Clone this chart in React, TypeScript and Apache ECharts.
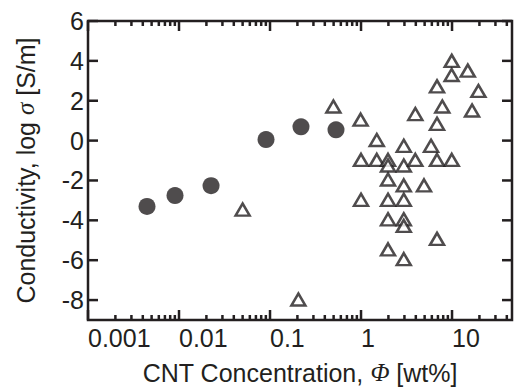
import React, { useEffect, useRef } from 'react';
import * as echarts from 'echarts';

const INK = '#231f20';
const FONT = '"Liberation Sans", Arial, sans-serif';
const FS = 25;

// Filled circles: CNT concentration [wt%] and log conductivity
const circleX = [0.00445, 0.00904, 0.0225, 0.0904, 0.219, 0.531];
const circleY = [-3.3, -2.76, -2.26, 0.05, 0.69, 0.54];

// Open triangles
const triangleX = [
  9.93, 14.9, 9.9, 6.84, 19.5, 0.497, 7.82, 16.6, 3.95, 6.84, 0.99, 1.49,
  2.95, 5.88, 1.0, 1.49, 1.98, 1.98, 2.95, 3.95, 6.84, 9.93, 1.98, 2.95,
  4.92, 1.0, 1.98, 2.95, 1.98, 2.95, 2.95, 6.84, 1.98, 2.95, 0.205, 0.05,
];
const triangleY = [
  4.0, 3.51, 3.29, 2.72, 2.49, 1.71, 1.71, 1.51, 1.33, 0.84, 1.05, 0.03,
  -0.26, -0.26, -0.97, -0.97, -0.97, -1.25, -1.25, -0.97, -0.97, -0.97, -1.95, -2.25,
  -2.25, -2.97, -2.97, -2.97, -3.95, -3.95, -4.28, -4.93, -5.46, -5.95, -7.97, -3.46,
];

// Axes
const xMajorTicks = [0.001, 0.01, 0.1, 1, 10];
const xTickLabels = ['0.001', '0.01', '0.1', '1', '10'];
const xMinorMultipliers = [2, 3, 4, 5, 6, 7, 8, 9];
const X_MIN = 0.001;
const X_MAX = 45.6;
const Y_MIN = -9;
const Y_MAX = 6;
const yMajorTicks = [-8, -6, -4, -2, 0, 2, 4, 6];

const MAJOR_LEN = 10;
const MINOR_LEN = 5;
const TICK_W = 2.5;

export default function App() {
  const ref = useRef<HTMLDivElement>(null);

  useEffect(() => {
    if (!ref.current) return;
    const chart = echarts.init(ref.current, undefined, { renderer: 'svg' });

    const option: any = {
      animation: false,
      grid: {
        left: 88,
        right: 3,
        top: 21,
        bottom: 64,
        show: true,
        borderColor: INK,
        borderWidth: 2.5,
      },
      xAxis: {
        type: 'log',
        logBase: 10,
        min: X_MIN,
        max: X_MAX,
        axisLine: { show: false },
        axisTick: { show: false },
        splitLine: { show: false },
        axisLabel: {
          align: 'left',
          margin: 5,
          color: INK,
          fontSize: FS,
          fontFamily: FONT,
          formatter: (v: number) => {
            const i = xMajorTicks.findIndex(
              (m) => Math.abs(Math.log10(v) - Math.log10(m)) < 1e-6
            );
            return i >= 0 ? xTickLabels[i] : '';
          },
        },
        name: 'CNT Concentration, {i|Φ} [wt%]',
        nameLocation: 'middle',
        nameGap: 40,
        nameTextStyle: {
          color: INK,
          fontSize: FS,
          fontFamily: FONT,
          rich: {
            i: { fontStyle: 'italic', fontFamily: '"Liberation Serif", serif', fontSize: FS, color: INK },
          },
        },
      },
      yAxis: {
        type: 'value',
        min: Y_MIN,
        max: Y_MAX,
        interval: 1,
        axisLine: { show: false },
        axisTick: { show: false },
        splitLine: { show: false },
        axisLabel: {
          margin: 4,
          color: INK,
          fontSize: FS,
          fontFamily: FONT,
          formatter: (v: number) => (yMajorTicks.includes(v) ? String(v) : ''),
        },
        name: 'Conductivity, log {i|σ} [S/m]',
        nameLocation: 'middle',
        nameGap: 50,
        nameTextStyle: {
          color: INK,
          fontSize: FS,
          fontFamily: FONT,
          rich: {
            i: { fontStyle: 'italic', fontFamily: '"Liberation Serif", serif', fontSize: FS, color: INK },
          },
        },
      },
      series: [
        {
          type: 'scatter',
          symbol: 'circle',
          symbolSize: 17,
          itemStyle: { color: INK },
          data: circleX.map((x, i) => [x, circleY[i]]),
        },
        {
          type: 'scatter',
          symbol: 'triangle',
          symbolSize: [14, 12],
          itemStyle: { color: '#ffffff', borderColor: INK, borderWidth: 2.5 },
          data: triangleX.map((x, i) => [x, triangleY[i]]),
        },
      ],
    };

    chart.setOption(option);

    // Inward tick marks on all four sides, positioned through the chart's own scales
    const toPx = (x: number, y: number): number[] =>
      chart.convertToPixel({ gridIndex: 0 }, [x, y]) as number[];
    const elements: any[] = [];
    const line = (x1: number, y1: number, x2: number, y2: number) =>
      elements.push({
        type: 'line',
        z: 100,
        shape: { x1, y1, x2, y2 },
        style: { stroke: INK, lineWidth: TICK_W },
      });

    const yBottom = toPx(X_MIN, Y_MIN)[1];
    const yTop = toPx(X_MIN, Y_MAX)[1];
    const xLeft = toPx(X_MIN, Y_MIN)[0];
    const xRight = toPx(X_MAX, Y_MIN)[0];

    xMajorTicks.forEach((m) => {
      const xm = toPx(m, Y_MIN)[0];
      line(xm, yBottom, xm, yBottom - MAJOR_LEN);
      line(xm, yTop, xm, yTop + MAJOR_LEN);
      xMinorMultipliers.forEach((k) => {
        const v = m * k;
        if (v >= X_MAX) return;
        const xv = toPx(v, Y_MIN)[0];
        line(xv, yBottom, xv, yBottom - MINOR_LEN);
        line(xv, yTop, xv, yTop + MINOR_LEN);
      });
    });
    yMajorTicks.forEach((v) => {
      const yv = toPx(X_MIN, v)[1];
      line(xLeft, yv, xLeft + MAJOR_LEN, yv);
      line(xRight, yv, xRight - MAJOR_LEN, yv);
    });

    chart.setOption({ graphic: { elements } });
    return () => chart.dispose();
  }, []);

  return (
    <div
      ref={ref}
      style={{ position: 'absolute', left: 0, top: 0, width: 515, height: 390, background: '#fff' }}
    />
  );
}
